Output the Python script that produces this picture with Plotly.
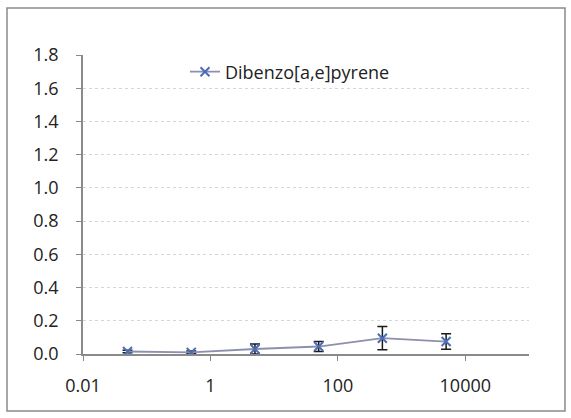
import plotly.graph_objects as go

# Concentration (log scale) and measured response for Dibenzo[a,e]pyrene
series_name = "Dibenzo[a,e]pyrene"
conc = [0.05, 0.5, 5, 50, 500, 5000]
response = [0.015, 0.01, 0.03, 0.045, 0.095, 0.075]
response_err = [0.008, 0.008, 0.03, 0.03, 0.07, 0.047]

x_tickvals = [0.01, 1, 100, 10000]
x_ticktext = ["0.01", "1", "100", "10000"]
y_tickvals = [0.0, 0.2, 0.4, 0.6, 0.8, 1.0, 1.2, 1.4, 1.6, 1.8]
y_ticktext = [f"{v:.1f}" for v in y_tickvals]

FONT = "Open Sans"
W, H = 571, 418
L, R, T, B = 83, 42, 55, 64

fig = go.Figure()
fig.add_trace(go.Scatter(
    x=conc, y=response, name=series_name, mode="lines+markers",
    line=dict(color="#8d8fae", width=1.8),
    marker=dict(symbol="x-thin-open", size=9, color="#4a6db5",
                line=dict(color="#4a6db5", width=2)),
    error_y=dict(type="data", array=response_err, visible=True,
                 color="#1a1a1a", thickness=1.5, width=5),
))

pw = W - L - R
ph = H - T - B
# outer chart frame
fig.add_shape(type="rect", xref="paper", yref="paper",
              x0=(7 - L) / pw, x1=(565 - L) / pw,
              y0=-(411 - (H - B)) / ph, y1=1 + (T - 8) / ph,
              line=dict(color="#8a8a8a", width=1.5), layer="below")

fig.update_layout(
    width=W, height=H,
    margin=dict(l=L, r=R, t=T, b=B),
    paper_bgcolor="white", plot_bgcolor="white",
    font=dict(family=FONT, size=18, color="#222222"),
    showlegend=True,
    legend=dict(x=(185 - L) / pw, y=1 - (72 - T) / ph, xanchor="left",
                yanchor="middle", bgcolor="rgba(0,0,0,0)",
                font=dict(family=FONT, size=18, color="#222222")),
)
fig.update_xaxes(
    type="log", range=[-2, 5],
    tickvals=x_tickvals, ticktext=x_ticktext,
    showgrid=False, zeroline=False,
    showline=True, linecolor="#8a8a8a", linewidth=1.5,
    ticks="outside", ticklen=5, tickcolor="#8a8a8a",
    ticklabelstandoff=10,
)
fig.update_yaxes(
    range=[0, 1.8],
    tickvals=y_tickvals, ticktext=y_ticktext,
    showgrid=True, gridcolor="#d6d6d6", griddash="dot", gridwidth=1,
    zeroline=False,
    showline=True, linecolor="#8a8a8a", linewidth=1.5,
    ticks="outside", ticklen=5, tickcolor="#8a8a8a",
    ticklabelstandoff=14,
)

fig.write_html("out.html")
